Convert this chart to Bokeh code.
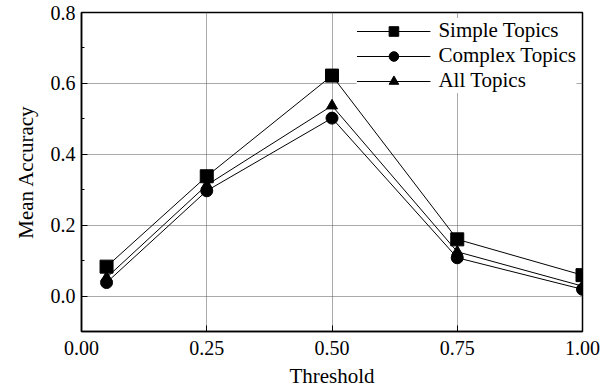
from bokeh.plotting import figure
from bokeh.models import FixedTicker, PrintfTickFormatter, Range1d, Legend, LegendItem
from bokeh.embed import file_html
from bokeh.resources import INLINE

thresholds = [0.05, 0.25, 0.50, 0.75, 1.00]
simple_topics = [0.083, 0.338, 0.622, 0.160, 0.059]
complex_topics = [0.038, 0.297, 0.502, 0.108, 0.019]
all_topics = [0.052, 0.313, 0.537, 0.125, 0.028]
x_ticks = [0.0, 0.25, 0.5, 0.75, 1.0]
y_ticks = [0.0, 0.2, 0.4, 0.6, 0.8]
y_minor = [-0.1, 0.1, 0.3, 0.5, 0.7]

FONT = "Liberation Serif"

p = figure(width=616, height=392, output_backend="svg", toolbar_location=None,
           x_range=Range1d(0.0, 1.0), y_range=Range1d(-0.1, 0.8),
           min_border_left=81, min_border_right=34, min_border_top=12, min_border_bottom=61)
p.outline_line_color = "black"
p.outline_line_width = 1.5
p.background_fill_color = "white"

r1 = p.line(thresholds, simple_topics, line_color="black", line_width=1)
m1 = p.scatter(thresholds, simple_topics, marker="square", size=13, color="black")
r2 = p.line(thresholds, complex_topics, line_color="black", line_width=1)
m2 = p.scatter(thresholds, complex_topics, marker="circle", size=12, color="black")
r3 = p.line(thresholds, all_topics, line_color="black", line_width=1)
m3 = p.scatter(thresholds, all_topics, marker="triangle", size=11, color="black")

for ax in (p.xaxis[0], p.yaxis[0]):
    ax.axis_line_color = "black"
    ax.axis_line_width = 1.5
    ax.major_tick_in = 6
    ax.major_tick_out = 0
    ax.minor_tick_in = 3
    ax.minor_tick_out = 0
    ax.major_tick_line_color = "black"
    ax.minor_tick_line_color = "black"
    ax.major_label_text_font = FONT
    ax.major_label_text_font_size = "20px"
    ax.major_label_text_color = "black"
    ax.axis_label_text_font = FONT
    ax.axis_label_text_font_size = "21px"
    ax.axis_label_text_font_style = "normal"
    ax.axis_label_text_color = "black"

p.xaxis[0].ticker = FixedTicker(ticks=x_ticks)
p.xaxis[0].formatter = PrintfTickFormatter(format="%.2f")
p.xaxis[0].axis_label = "Threshold"
p.xaxis[0].major_label_standoff = 9
p.xaxis[0].axis_label_standoff = 6
p.yaxis[0].ticker = FixedTicker(ticks=y_ticks, minor_ticks=y_minor)
p.yaxis[0].formatter = PrintfTickFormatter(format="%.1f")
p.yaxis[0].axis_label = "Mean Accuracy"
p.yaxis[0].major_label_standoff = 6
p.yaxis[0].axis_label_standoff = 10

for g in (p.xgrid[0], p.ygrid[0]):
    g.grid_line_color = "#555555"
    g.grid_line_dash = "1 1"
    g.grid_line_width = 1
p.xgrid[0].ticker = FixedTicker(ticks=x_ticks)
p.ygrid[0].ticker = FixedTicker(ticks=y_ticks)

legend = Legend(items=[
    LegendItem(label="Simple Topics", renderers=[r1, m1]),
    LegendItem(label="Complex Topics", renderers=[r2, m2]),
    LegendItem(label="All Topics", renderers=[r3, m3]),
], location="top_right")
legend.margin = 6
legend.padding = 1
legend.spacing = 0
legend.label_height = 24
legend.glyph_height = 24
legend.glyph_width = 74
legend.label_standoff = 8
legend.label_text_font = FONT
legend.label_text_font_size = "21px"
legend.label_text_color = "black"
legend.border_line_color = None
legend.background_fill_color = "white"
legend.background_fill_alpha = 1.0
p.add_layout(legend)

open("out.html", "w").write(file_html(p, INLINE))
